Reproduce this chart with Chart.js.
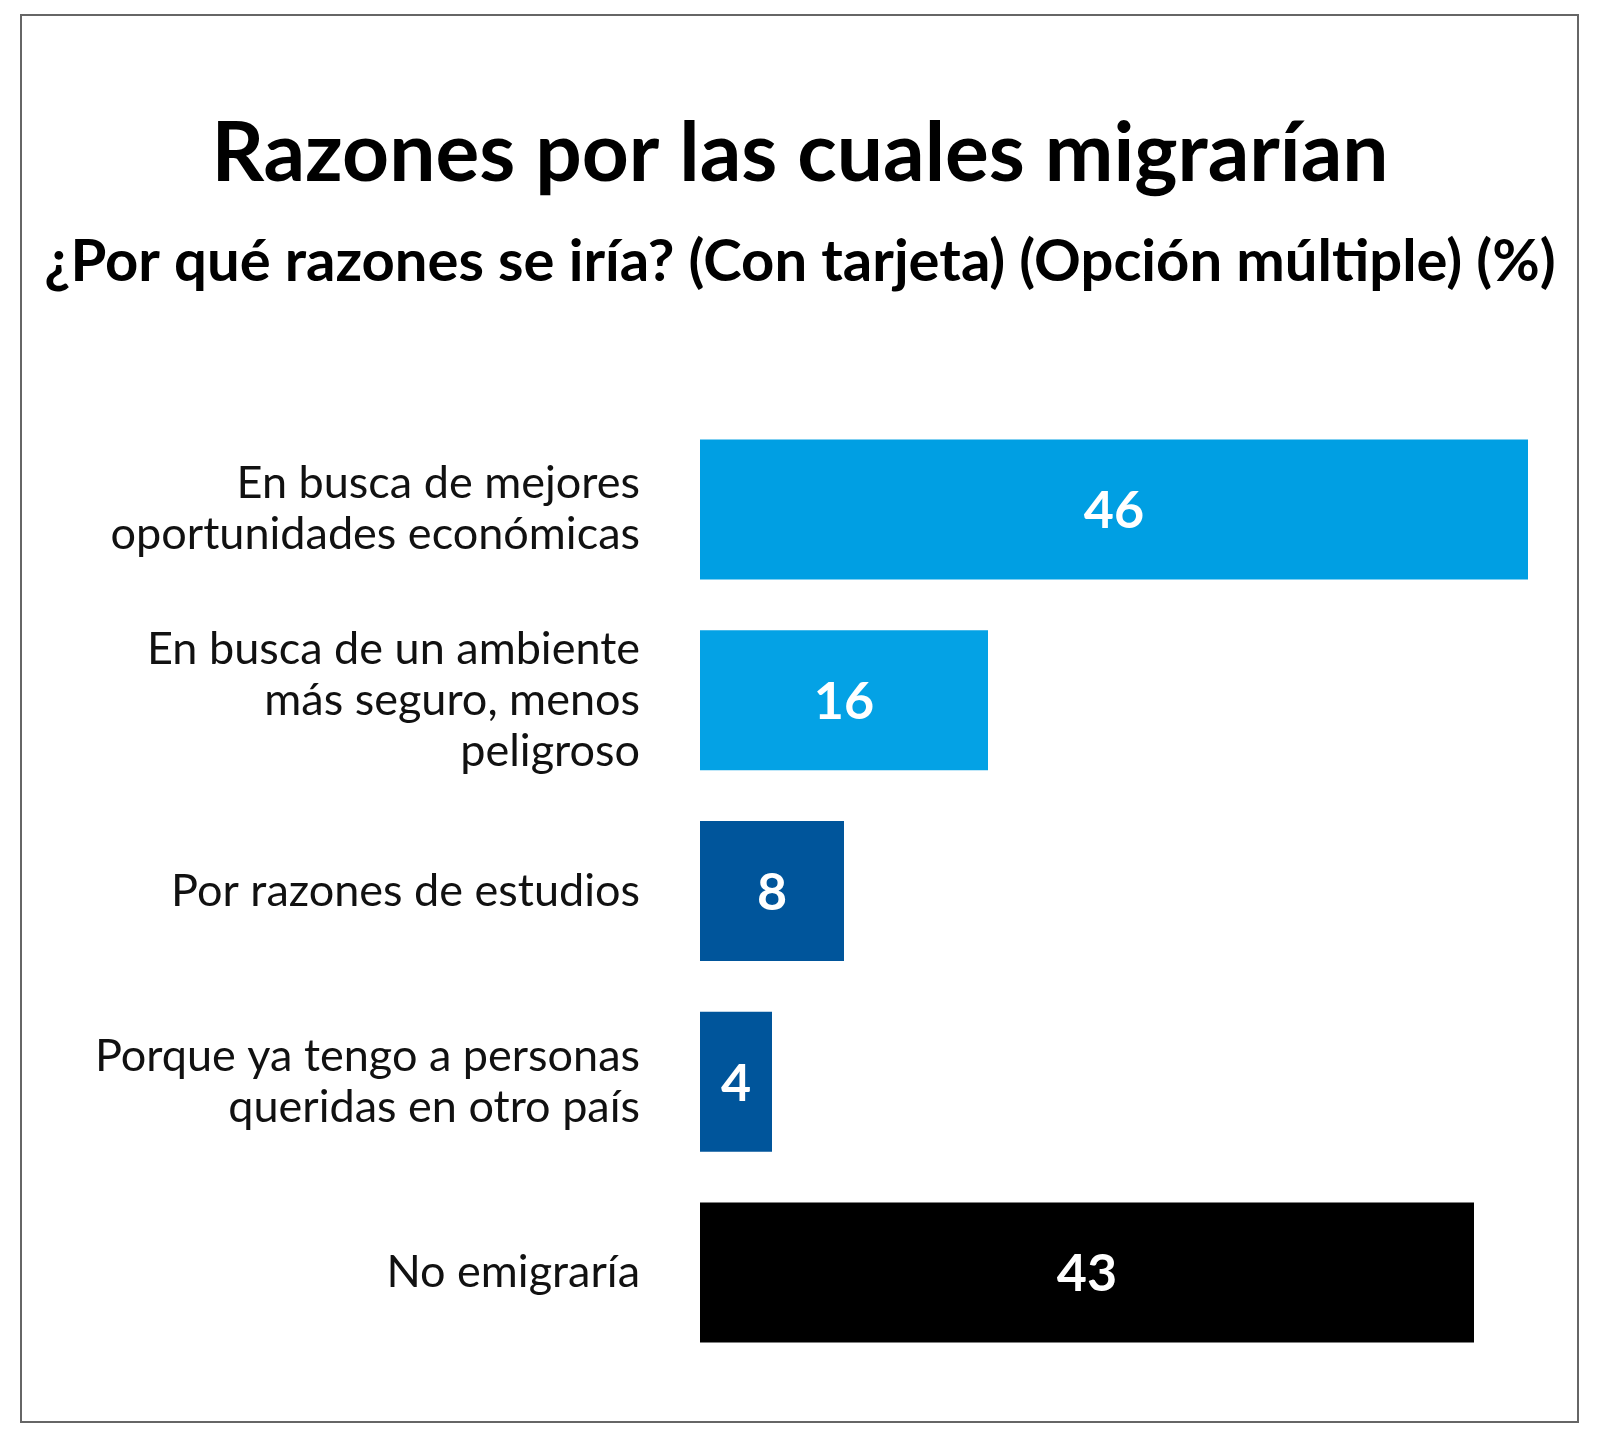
<!DOCTYPE html>
<html>
<head>
<meta charset="utf-8">
<script src="https://cdn.jsdelivr.net/npm/chart.js@4.4.1/dist/chart.umd.min.js"></script>
<style>
  html, body { margin: 0; background: #fff; }
  #wrap { position: relative; width: 1600px; height: 1446px; }
  #chart { position: absolute; left: 0; top: 0; }
  /* grey frame round the whole graphic */
  #frame {
    position: absolute; left: 20px; top: 14px; width: 1559px; height: 1409px;
    border: 2px solid #666; box-sizing: border-box; pointer-events: none;
  }
</style>
</head>
<body>
<div id="wrap">
  <canvas id="chart" width="1600" height="1446"></canvas>
  <div id="frame"></div>
</div>
<script>
// Survey answers, one bar each (multi-line labels as arrays).
const categories = [
  ["En busca de mejores", "oportunidades económicas"],
  ["En busca de un ambiente", "más seguro, menos", "peligroso"],
  "Por razones de estudios",
  ["Porque ya tengo a personas", "queridas en otro país"],
  "No emigraría",
];
const values = [46, 16, 8, 4, 43];
const barColors = ["#009fe3", "#04a2e5", "#00559b", "#00559b", "#000000"];
const xMax = 48;

const titleText = "Razones por las cuales migrarían";
const subtitleText = "¿Por qué razones se iría? (Con tarjeta) (Opción múltiple) (%)";

// Chart.js has no built-in bar value labels; draw the number in the middle of each bar.
const valueLabels = {
  id: "valueLabels",
  afterDatasetsDraw(chart) {
    const { ctx } = chart;
    const meta = chart.getDatasetMeta(0);
    ctx.save();
    ctx.font = "bold 52px Lato";
    ctx.fillStyle = "#fff";
    ctx.textAlign = "center";
    ctx.textBaseline = "middle";
    meta.data.forEach((bar, i) => {
      ctx.fillText(String(values[i]), (bar.base + bar.x) / 2, bar.y + 2);
    });
    ctx.restore();
  },
};

new Chart(document.getElementById("chart"), {
  type: "bar",
  data: {
    labels: categories,
    datasets: [{
      data: values,
      backgroundColor: barColors,
      borderWidth: 0,
      barPercentage: 0.734,
      categoryPercentage: 1,
    }],
  },
  options: {
    indexAxis: "y",
    responsive: false,
    animation: false,
    layout: { padding: { left: 36, right: 36, top: 0, bottom: 78 } },
    plugins: {
      legend: { display: false },
      tooltip: { enabled: false },
      title: {
        display: true,
        text: titleText,
        color: "#000",
        font: { family: "Lato", size: 82, weight: "bold", lineHeight: 1.2 },
        padding: { top: 105, bottom: 0 },
      },
      subtitle: {
        display: true,
        text: subtitleText,
        color: "#000",
        font: { family: "Lato", size: 58, weight: "bold", lineHeight: 1.2 },
        padding: { top: 24, bottom: 117 },
      },
    },
    scales: {
      x: { display: false, min: 0, max: xMax },
      y: {
        grid: { display: false },
        border: { display: false },
        ticks: {
          color: "#111",
          padding: 52,
          font: { family: "Lato", size: 45, lineHeight: 1.13 },
        },
        // pin the plot's left edge (700px) so bars start where they do in the original;
        // drop the half-label overhang so the tall first/last labels don't squeeze the plot
        afterFit(scale) {
          scale.width = 664;
          scale.paddingTop = 0;
          scale.paddingBottom = 0;
        },
      },
    },
  },
  plugins: [valueLabels],
});
</script>
</body>
</html>
